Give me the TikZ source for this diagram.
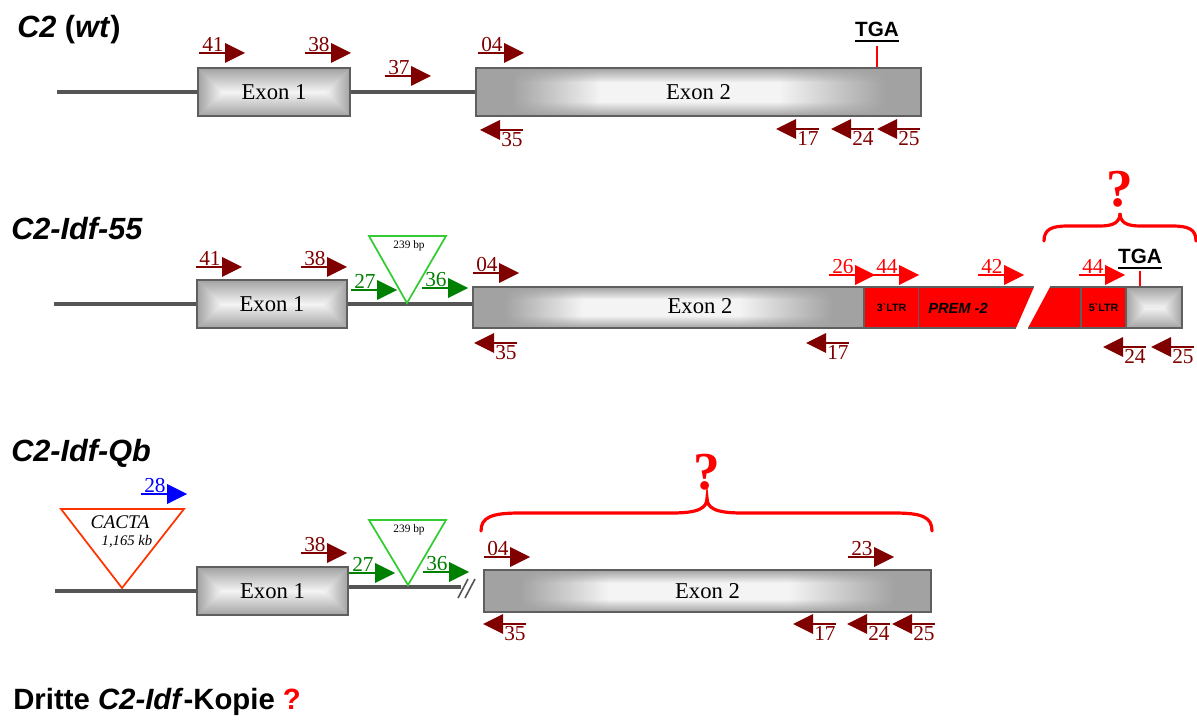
\documentclass[tikz,border=0pt]{standalone}
\usepackage{fontspec}
\usetikzlibrary{fadings}
\setmainfont{Liberation Serif}
\newfontfamily\arialfont{Liberation Sans}
\definecolor{primred}{HTML}{800000}
\definecolor{primgreen}{HTML}{008000}
\definecolor{insgreen}{HTML}{33CC33}
\definecolor{primblue}{HTML}{0000FF}
\definecolor{ltrred}{HTML}{FF0000}
\definecolor{cactaorange}{HTML}{FF3300}
\definecolor{dnagray}{HTML}{555555}
\definecolor{boxgray}{HTML}{5F5F5F}
\definecolor{exedge}{HTML}{A2A2A2}
\definecolor{exmid}{HTML}{C8C8C8}
\definecolor{excenter}{HTML}{F4F4F4}

% the path is fitted to the 25bp--75bp part of the shading
\pgfdeclarehorizontalshading{exonh}{100bp}{color(0bp)=(exedge); color(29bp)=(exedge); color(39bp)=(excenter);
  color(59bp)=(excenter); color(71bp)=(exedge); color(100bp)=(exedge)}
\tikzfading[name=fadedown, top color=transparent!0, bottom color=transparent!100]
\tikzfading[name=fadeup, top color=transparent!100, bottom color=transparent!0]

% forward primer: name, tip x, y, colour, number
\newcommand\fwdprimer[5]{%
  \fill[#4] (#2-20,#3-10) -- (#2,#3) -- (#2-20,#3+10) -- cycle;
  \draw[#4, line width=1.4pt] (#2-46,#3) -- (#2-19,#3);
  \node[primerlbl, text=#4, anchor=base west] (#1) at (#2-43,#3-1.5) {#5};
}
% reverse primer: name, tip x, y, colour, number
\newcommand\revprimer[5]{%
  \fill[#4] (#2+20,#3-10) -- (#2,#3) -- (#2+20,#3+10) -- cycle;
  \draw[#4, line width=1.4pt] (#2+19,#3) -- (#2+43,#3);
  \node[primerlbl, text=#4, anchor=north west] (#1) at (#2+21,#3+2.5) {#5};
}
% pyramid-like shading of a box: x0, y0, x1, y1, inset of the bright ridge
\newcommand\exonshade[5]{%
  \pgfmathsetmacro\exym{(#2+#4)/2}
  \fill[exmid] (#1,#2) rectangle (#3,#4);
  \shade[top color=exedge, bottom color=excenter] (#1,#2) -- (#3,#2) -- (#3-#5,\exym) -- (#1+#5,\exym) -- cycle;
  \shade[top color=excenter, bottom color=exedge] (#1,#4) -- (#3,#4) -- (#3-#5,\exym) -- (#1+#5,\exym) -- cycle;
  \shade[left color=exedge, right color=excenter] (#1,#2) -- (#1+#5,\exym) -- (#1,#4) -- cycle;
  \shade[left color=excenter, right color=exedge] (#3,#2) -- (#3-#5,\exym) -- (#3,#4) -- cycle;
}
% small shaded exon with frame: name, x0, y0, x1, y1, inset, label
\newcommand\exonbox[7]{%
  \exonshade{#2}{#3}{#4}{#5}{#6}
  \node[exonframe, minimum width={(#4-#2)*0.75pt}, minimum height={(#5-#3)*0.75pt}] (#1) at ({(#2+#4)/2},{(#3+#5)/2}) {#7};
}
% long exon: bright middle, darker ends and rims: name, x0, y0, x1, y1, label
\newcommand\longexon[6]{%
  \shade[shading=exonh] (#2,#3) rectangle (#4,#5);
  \fill[exedge, path fading=fadedown] (#2,#3) rectangle (#4,{#3+(#5-#3)*0.3});
  \fill[exedge, path fading=fadeup] (#2,{#5-(#5-#3)*0.3}) rectangle (#4,#5);
  \node[exonframe, minimum width={(#4-#2)*0.75pt}, minimum height={(#5-#3)*0.75pt}] (#1) at ({(#2+#4)/2},{(#3+#5)/2}) {#6};
}

\begin{document}
\begin{tikzpicture}[x=0.75pt,y=-0.75pt,
  primerlbl/.style={font=\fontsize{16}{16}\selectfont, inner sep=0pt},
  exonframe/.style={draw=boxgray, line width=1.5pt, inner sep=0pt, font=\fontsize{17}{17}\selectfont},
  exonlbl/.style={inner sep=0pt, font=\fontsize{17}{17}\selectfont},
  dna/.style={draw=dnagray, line width=2.3pt},
  title/.style={font=\arialfont\bfseries\fontsize{23}{23}\selectfont, anchor=base west, inner sep=0pt},
  tgalbl/.style={font=\arialfont\bfseries\fontsize{15.5}{15.5}\selectfont, anchor=base, inner sep=0pt},
  tgaul/.style={line width=2.2pt},
  tgatick/.style={draw=ltrred, line width=1.2pt},
  ins/.style={draw=insgreen, line width=1.3pt},
  bplbl/.style={font=\fontsize{8.5}{8.5}\selectfont, inner sep=0pt},
  ltrbox/.style={fill=ltrred, draw=boxgray, line width=1.2pt, inner sep=0pt,
    font=\arialfont\bfseries\fontsize{8}{8}\selectfont},
  brace/.style={draw=ltrred, line width=2.4pt, line cap=round},
  qmark/.style={text=ltrred, font=\bfseries\fontsize{40}{40}\selectfont, anchor=base, inner sep=0pt},
  brk/.style={draw=dnagray, line width=1.2pt}
]
\useasboundingbox (0,0) rectangle (1197,720);
\fill[white] (0,0) rectangle (1197,720);

%% ---------------- C2 (wt) ----------------
\node[title] (t1) at (17,38) {\textit{C2} (\textit{wt})};
\exonbox{ex1a}{198}{68}{350}{116}{24}{Exon 1}
\longexon{ex2a}{476}{68}{921}{116}{Exon 2}
\coordinate (s1) at (57,92);
\draw[dna] (s1) -- (ex1a.west);
\draw[dna] (ex1a.east) -- (ex2a.west);
\node[tgalbl] (tga1) at (877,37) {TGA};
\draw[tgaul] ([yshift=-3pt]tga1.base west) -- ([yshift=-3pt]tga1.base east);
\draw[tgatick] ([yshift=-7pt]tga1.base) -- (tga1.base |- ex2a.north);
\fwdprimer{p41a}{245}{53}{primred}{41}
\fwdprimer{p38a}{351}{53}{primred}{38}
\fwdprimer{p37a}{431}{76}{primred}{37}
\fwdprimer{p04a}{524}{53}{primred}{04}
\revprimer{p35a}{480}{130}{primred}{35}
\revprimer{p17a}{776}{129}{primred}{17}
\revprimer{p24a}{831}{129}{primred}{24}
\revprimer{p25a}{877}{129}{primred}{25}

%% ---------------- C2-Idf-55 ----------------
\node[title] (t2) at (11,240) {\itshape C2-Idf-55};
\exonbox{ex1b}{197}{280}{347}{328}{24}{Exon 1}
\longexon{ex2b}{473}{287}{864}{328}{}
\node[exonlbl] (ex2blbl) at (700,306) {Exon 2};
\node[ltrbox, minimum width={55*0.75pt}, minimum height={41*0.75pt}] (ltr3) at (891.5,307.5) {3\textasciigrave LTR};
\fill[ltrred] (919,287) -- (1034,287) -- (1016,328) -- (919,328) -- cycle;
\fill[ltrred] (1050,287) -- (1081,287) -- (1081,328) -- (1028,328) -- cycle;
\draw[boxgray, line width=1.2pt] (919,287) -- (1034,287) (919,328) -- (1016,328)
  (1050,287) -- (1081,287) (1028,328) -- (1081,328);
\node[inner sep=0pt, font=\arialfont\bfseries\itshape\fontsize{11}{11}\selectfont] (prem) at (958,308) {PREM -2};
\node[ltrbox, minimum width={45*0.75pt}, minimum height={41*0.75pt}] (ltr5) at (1103.5,307.5) {5\textasciigrave LTR};
\exonbox{endb}{1126}{287}{1182}{328}{20}{}
\coordinate (s2) at (54,304);
\draw[dna] (s2) -- (ex1b.west);
\draw[dna] (ex1b.east) -- (ex1b.east -| ex2b.west);
\draw[ins] (369,236) -- (446,236) -- (407,303) -- cycle;
\node[bplbl] (bp1) at (409,246) {239 bp};
\node[tgalbl] (tga2) at (1140,264) {TGA};
\draw[tgaul] ([yshift=-3pt]tga2.base west) -- ([yshift=-3pt]tga2.base east);
\draw[tgatick] ([yshift=-5pt]tga2.base) -- (tga2.base |- endb.north);
\fwdprimer{p41b}{242}{267}{primred}{41}
\fwdprimer{p38b}{347}{267}{primred}{38}
\fwdprimer{p27b}{397}{290}{primgreen}{27}
\fwdprimer{p36b}{468}{288}{primgreen}{36}
\fwdprimer{p04b}{519}{273}{primred}{04}
\fwdprimer{p26b}{875}{275}{ltrred}{26}
\fwdprimer{p44b}{919}{275}{ltrred}{44}
\fwdprimer{p42b}{1024}{275}{ltrred}{42}
\fwdprimer{p44c}{1125}{275}{ltrred}{44}
\revprimer{p35b}{474}{343}{primred}{35}
\revprimer{p17b}{806}{343}{primred}{17}
\revprimer{p24b}{1103}{347}{primred}{24}
\revprimer{p25b}{1151}{347}{primred}{25}
\draw[brace] (1044,241) .. controls (1044,229) and (1052,226) .. (1068,226) -- (1100,226)
  .. controls (1114,226) and (1120,222) .. (1120,213)
  .. controls (1120,222) and (1126,226) .. (1140,226) -- (1172,226)
  .. controls (1188,226) and (1196,229) .. (1196,241);
\node[qmark] (q2) at (1120,207) {?};

%% ---------------- C2-Idf-Qb ----------------
\node[title] (t3) at (11,461) {\itshape C2-Idf-Qb};
\exonbox{ex1c}{197}{567}{348}{615}{24}{Exon 1}
\longexon{ex2c}{484}{570}{931}{612}{Exon 2}
\coordinate (s3) at (55,591);
\coordinate (cut) at (461,587);
\draw[dna] (s3) -- (ex1c.west);
\draw[dna] (ex1c.east |- cut) -- (cut);
\draw[brk] (458,598) -- (468,579) (465,598) -- (475,579);
\draw[draw=cactaorange, line width=1.3pt] (61,509) -- (184,509) -- (122,588) -- cycle;
\node[inner sep=0pt, font=\itshape\fontsize{14.5}{14.5}\selectfont] (cacta) at (120,522) {CACTA};
\node[inner sep=0pt, font=\itshape\fontsize{11}{11}\selectfont] (cactakb) at (127,542) {1,165 kb};
\draw[ins] (369,520) -- (446,520) -- (408,585) -- cycle;
\node[bplbl] (bp2) at (409,530) {239 bp};
\fwdprimer{p28c}{187}{494}{primblue}{28}
\fwdprimer{p38c}{347}{553}{primred}{38}
\fwdprimer{p27c}{395}{573}{primgreen}{27}
\fwdprimer{p36c}{469}{572}{primgreen}{36}
\fwdprimer{p04c}{530}{557}{primred}{04}
\fwdprimer{p23c}{894}{557}{primred}{23}
\revprimer{p35c}{483}{624}{primred}{35}
\revprimer{p17c}{793}{624}{primred}{17}
\revprimer{p24c}{847}{624}{primred}{24}
\revprimer{p25c}{892}{624}{primred}{25}
\draw[brace] (481,531) .. controls (481,517) and (492,513) .. (520,513) -- (672,513)
  .. controls (699,513) and (707,508) .. (707,498)
  .. controls (707,508) and (715,513) .. (742,513) -- (894,513)
  .. controls (922,513) and (932,517) .. (932,531);
\node[qmark] (q3) at (707,489) {?};

%% ---------------- third copy ----------------
\node[title, font=\arialfont\bfseries\fontsize{22}{22}\selectfont] (t4) at (13,709)
  {Dritte \textit{C2-Idf}-Kopie \textcolor{ltrred}{?}};
\end{tikzpicture}
\end{document}
